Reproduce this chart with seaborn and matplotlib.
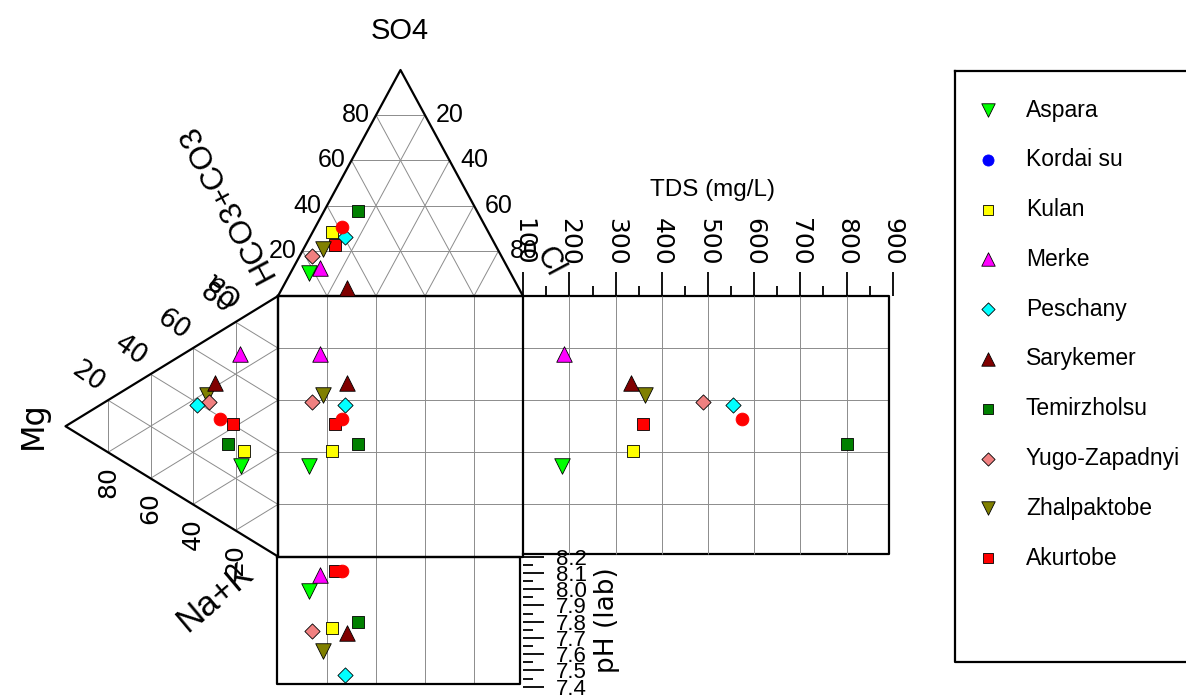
import numpy as np
import matplotlib
matplotlib.use("Agg")
import matplotlib.pyplot as plt
import seaborn as sns

plt.rcParams['font.family'] = ['Liberation Sans', 'DejaVu Sans']
NARROW = ['Liberation Sans']
WIDE = ['DejaVu Sans']
REG = ['Liberation Sans']

# --- data (percent of meq, TDS in mg/L, pH) ---
names = ['Aspara', 'Kordai su', 'Kulan', 'Merke', 'Peschany', 'Sarykemer',
         'Temirzholsu', 'Yugo-Zapadnyi', 'Zhalpaktobe', 'Akurtobe']
so4 = [10.3, 30.4, 28.5, 12.3, 26.2, 3.4, 37.7, 17.8, 20.8, 22.6]
cl = [7.5, 10.8, 7.7, 11.0, 14.2, 26.3, 13.9, 5.1, 7.8, 11.9]
mg = [17.4, 27.3, 16.0, 17.9, 38.3, 29.6, 23.4, 32.3, 33.6, 21.0]
na_k = [56.4, 33.4, 51.5, 13.4, 22.8, 18.5, 45.2, 24.5, 21.3, 38.7]
tds = [183, 574, 337, 189, 555, 333, 802, 490, 364, 359]
ph = [7.99, 8.11, 7.76, 8.09, 7.47, 7.73, 7.80, 7.74, 7.62, 8.11]

markers = ['v', 'o', 's', '^', 'D', '^', 's', 'D', 'v', 's']
colors = ['#00ff00', '#0000ff', '#ffff00', '#ff00ff', '#00ffff', '#800000',
          '#008000', '#f08080', '#808000', '#ff0000']
plot_colors = list(colors)
plot_colors[1] = '#ff0000'   # Kordai su comes out red in the diagram itself
msize = {'v': 125, '^': 125, 's': 82, 'o': 85, 'D': 60}

# --- layout (pixel space of the 1186x697 canvas) ---
W, H = 1186, 697
X0, X1 = 278, 523          # square left/right
Y0, Y1 = 296, 556.5        # square top/bottom
TRI_H = 226                # height of anion triangle
LEFT_W = 212.5             # depth of cation triangle


def anion_xy(s, c):
    s, c = np.asarray(s) / 100, np.asarray(c) / 100
    return X0 + (X1 - X0) * (c + s / 2), Y0 - TRI_H * s


def cation_xy(m, n):
    m, n = np.asarray(m) / 100, np.asarray(n) / 100
    return X0 - LEFT_W * m, Y0 + (Y1 - Y0) * (n + m / 2)


ax_x, ax_y = anion_xy(so4, cl)
ct_x, ct_y = cation_xy(mg, na_k)

fig = plt.figure(figsize=(W / 100, H / 100), dpi=100)
ax = fig.add_axes([0, 0, 1, 1])
ax.set_xlim(0, W)
ax.set_ylim(H, 0)
ax.axis('off')


def inset(l, r, t, b):
    a = fig.add_axes([l / W, 1 - b / H, (r - l) / W, (b - t) / H])
    a.patch.set_visible(False)
    for s in a.spines.values():
        s.set_visible(False)
    return a


GRID = dict(color='#8c8c8c', lw=0.7, zorder=1)
EDGE = dict(color='black', lw=1.6, zorder=3)

# grid of anion triangle
for t in np.arange(0.2, 0.9, 0.2):
    for p, q in [((t, 0), (t, 1 - t)), ((0, t), (1 - t, t)), ((0, 1 - t), (1 - t, 0))]:
        xa, ya = anion_xy([p[0] * 100, q[0] * 100], [p[1] * 100, q[1] * 100])
        ax.plot(xa, ya, **GRID)
# grid of cation triangle
for t in np.arange(0.2, 0.9, 0.2):
    for p, q in [((t, 0), (t, 1 - t)), ((0, t), (1 - t, t)), ((0, 1 - t), (1 - t, 0))]:
        xc, yc = cation_xy([p[0] * 100, q[0] * 100], [p[1] * 100, q[1] * 100])
        ax.plot(xc, yc, **GRID)
# grid continued through square, TDS and pH panels
for k in range(1, 5):
    gx = X0 + (X1 - X0) * k / 5
    ax.plot([gx, gx], [Y0, 684], **GRID)
    gy = Y0 + (Y1 - Y0) * k / 5
    ax.plot([X0, 889], [gy, gy], **GRID)

# outlines
ax.plot([X0, X1, (X0 + X1) / 2, X0], [Y0, Y0, Y0 - TRI_H, Y0], **EDGE)
ax.plot([X0, X0 - LEFT_W, X0, X0], [Y0, (Y0 + Y1) / 2, Y1, Y0], **EDGE)
ax.plot([X0, X1, X1, X0, X0], [Y0, Y0, Y1, Y1, Y0], **EDGE)
ax.plot([X1, 889, 889, X1], [Y0, Y0, 553.5, 553.5], **EDGE)
ax.plot([277, 520, 520, 277, 277], [557, 557, 684, 684, 557], **EDGE)

# tick labels of the triangles
for t in [0.2, 0.4, 0.6, 0.8]:
    x, y = anion_xy([t * 100], [0])
    ax.text(x[0] - 6, y[0], f'{t * 100:.0f}', ha='right', va='center', family=NARROW, size=18)
    x, y = anion_xy([t * 100], [(1 - t) * 100])
    ax.text(x[0] + 11, y[0], f'{(1 - t) * 100:.0f}', ha='left', va='center', family=NARROW, size=18)
    x, y = cation_xy([t * 100], [0])
    ax.text(x[0] - 20, y[0] - 23, f'{(1 - t) * 100:.0f}', ha='center', va='center',
            rotation=-35, family=WIDE, size=19)
    x, y = cation_xy([t * 100], [(1 - t) * 100])
    ax.text(x[0], y[0] + 30, f'{t * 100:.0f}', ha='center', va='center',
            rotation=90, family=WIDE, size=18)

ax.text(400, 31, 'SO4', ha='center', va='center', family=NARROW, size=21)
ax.text(227, 202, 'HCO3+CO3', ha='center', va='center', rotation=118, family=REG, size=23)
ax.text(549, 262, 'Cl', ha='center', va='center', rotation=-62, family=REG, size=22)
ax.text(33, 425, 'Mg', ha='center', va='center', rotation=90, family=WIDE, size=23)
ax.text(223, 288, 'Ca', ha='center', va='center', rotation=145, family=REG, size=21)
ax.text(215, 597, 'Na+K', ha='center', va='center', rotation=40, family=REG, size=25)
ax.text(713, 190, 'TDS (mg/L)', ha='center', va='center', family=NARROW, size=17.5)
ax.text(607, 620, 'pH (lab)', ha='center', va='center', rotation=90, family=WIDE, size=19)

# TDS panel
ax_t = inset(523.3, 892.7, Y0, Y1)
ax_t.set_xlim(100, 900)
ax_t.set_ylim(Y1, Y0)
tds_ticks = np.arange(100, 1000, 100)
ax_t.set_xticks(tds_ticks, labels=[str(v) for v in tds_ticks], family='DejaVu Sans',
                size=18, rotation=-90)
ax_t.set_xticks(np.arange(150, 900, 100), minor=True)
ax_t.set_yticks([])
ax_t.tick_params(axis='x', which='both', top=True, bottom=False, labeltop=True,
                 labelbottom=False, direction='out', width=1.3, color='black')
ax_t.tick_params(axis='x', which='major', length=17, pad=5)
ax_t.tick_params(axis='x', which='minor', length=7)
ax_t.vlines(np.arange(200, 900, 100), 296, 553.5, color='#8c8c8c', lw=0.7, zorder=1)

# pH panel
ax_p = inset(X0 - 1, X1, 556.7, 686.7)
ax_p.set_xlim(X0 - 1, X1)
ax_p.set_ylim(7.4, 8.2)
ph_ticks = np.round(np.arange(7.4, 8.25, 0.1), 1)
ax_p.set_yticks(ph_ticks, labels=[f'{v:.1f}' for v in ph_ticks], family=NARROW, size=16)
ax_p.set_yticks(np.round(np.arange(7.45, 8.2, 0.1), 2), minor=True)
ax_p.set_xticks([])
ax_p.tick_params(axis='y', which='both', left=False, right=True, labelleft=False,
                 labelright=True, direction='out', width=1.3, color='black')
ax_p.tick_params(axis='y', which='major', length=15, pad=9)
ax_p.tick_params(axis='y', which='minor', length=7)

# samples, drawn last-to-first as in the original
for i in reversed(range(len(names))):
    edge = plot_colors[i] if markers[i] == 'o' else 'black'
    kw = dict(marker=markers[i], s=msize[markers[i]], color=plot_colors[i],
              edgecolor=edge, linewidth=0.6, legend=False, zorder=5, clip_on=False)
    sns.scatterplot(x=[ax_x[i]], y=[ax_y[i]], ax=ax, **kw)
    sns.scatterplot(x=[ct_x[i]], y=[ct_y[i]], ax=ax, **kw)
    sns.scatterplot(x=[ax_x[i]], y=[ct_y[i]], ax=ax, **kw)
    sns.scatterplot(x=[tds[i]], y=[ct_y[i]], ax=ax_t, **kw)
    sns.scatterplot(x=[ax_x[i]], y=[ph[i]], ax=ax_p, **kw)

# legend box
ax.plot([955, 1192, 1192, 955, 955], [71, 71, 662, 662, 71], color='black', lw=1.6, clip_on=False)
for i, name in enumerate(names):
    ly = 110 + 49.8 * i
    edge = colors[i] if markers[i] == 'o' else 'black'
    sns.scatterplot(x=[988], y=[ly], marker=markers[i], s=msize[markers[i]] * 0.75,
                    color=colors[i], edgecolor=edge, linewidth=0.6, legend=False, ax=ax, zorder=5)
    ax.text(1026, ly, name, ha='left', va='center', family=NARROW, size=16.5)

ax.set_xlim(0, W)
ax.set_ylim(H, 0)
ax.axis('off')
fig.savefig('out.png', dpi=100)
